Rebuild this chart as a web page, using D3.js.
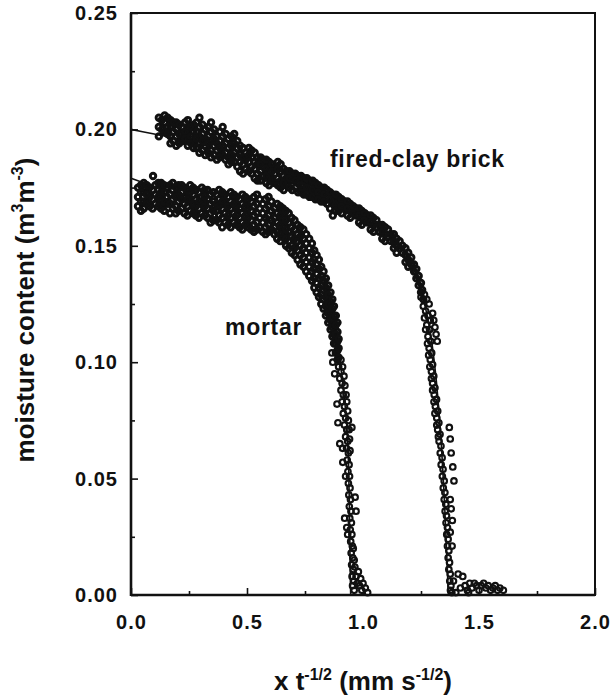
<!DOCTYPE html>
<html><head><meta charset="utf-8">
<script src="https://cdn.jsdelivr.net/npm/d3@7"></script>
<style>html,body{margin:0;padding:0;background:#fff;} svg{display:block;}</style>
</head><body><svg id="chart" width="615" height="697"></svg>
<script>
// ---------- data ----------
const xTicks = [0, 0.5, 1.0, 1.5, 2.0];
const xMinorTicks = [0.25, 0.75, 1.25, 1.75];
const yTicks = [0, 0.05, 0.10, 0.15, 0.20, 0.25];
const yMinorTicks = [0.025, 0.075, 0.125, 0.175, 0.225];
const seriesLabels = ["fired-clay brick", "mortar"];

const brickFit = [[0,0.200],[0.1,0.198],[0.2,0.196],[0.3,0.1935],[0.4,0.191],[0.5,0.188],[0.6,0.1845],[0.7,0.181],[0.8,0.1765],[0.9,0.171],[1.0,0.1645],[1.05,0.161],[1.1,0.156],[1.15,0.150],[1.2,0.142],[1.24,0.133],[1.27,0.123],[1.29,0.113],[1.305,0.102],[1.318,0.090],[1.328,0.078],[1.338,0.064],[1.346,0.050],[1.353,0.036],[1.359,0.022],[1.364,0.010],[1.368,0.0]];
const mortarFit = [[0,0.179],[0.1,0.1755],[0.2,0.1725],[0.3,0.170],[0.4,0.1675],[0.5,0.1645],[0.6,0.161],[0.65,0.158],[0.7,0.154],[0.75,0.149],[0.8,0.141],[0.83,0.134],[0.86,0.124],[0.88,0.114],[0.9,0.101],[0.915,0.089],[0.925,0.079],[0.933,0.068],[0.938,0.055],[0.941,0.040],[0.943,0.025],[0.945,0.010],[0.947,0.0]];

const brickPlateau = [
[0.12,0.205],[0.12,0.201],[0.12,0.197],
[0.145,0.206],[0.145,0.203],[0.145,0.199],
[0.17,0.204],[0.17,0.201],[0.17,0.197],[0.17,0.194],
[0.195,0.203],[0.195,0.200],[0.195,0.197],[0.195,0.193],
[0.22,0.201],[0.22,0.198],[0.22,0.195],
[0.245,0.204],[0.245,0.200],[0.245,0.197],[0.245,0.193],
[0.27,0.202],[0.27,0.199],[0.27,0.195],[0.27,0.192],
[0.295,0.205],[0.295,0.201],[0.295,0.197],[0.295,0.194],[0.295,0.190],
[0.32,0.200],[0.32,0.196],[0.32,0.193],[0.32,0.189],
[0.345,0.203],[0.345,0.199],[0.345,0.195],[0.345,0.191],[0.345,0.188],
[0.37,0.197],[0.37,0.194],[0.37,0.191],[0.37,0.187],
[0.395,0.201],[0.395,0.197],[0.395,0.193],[0.395,0.189],
[0.42,0.196],[0.42,0.192],[0.42,0.188],[0.42,0.185],
[0.445,0.198],[0.445,0.194],[0.445,0.190],[0.445,0.186],
[0.47,0.193],[0.47,0.189],[0.47,0.186],[0.47,0.182],
[0.495,0.190],[0.495,0.187],[0.495,0.183],
[0.52,0.191],[0.52,0.188],[0.52,0.184],[0.52,0.181],
[0.545,0.188],[0.545,0.185],[0.545,0.181],[0.545,0.178],
[0.57,0.187],[0.57,0.184],[0.57,0.180],
[0.595,0.186],[0.595,0.182],[0.595,0.179],[0.595,0.176],
[0.62,0.184],[0.62,0.181],[0.62,0.177],
[0.645,0.185],[0.645,0.182],[0.645,0.178],[0.645,0.175],
[0.67,0.182],[0.67,0.179],[0.67,0.176],
[0.695,0.181],[0.695,0.178],[0.695,0.174],
[0.72,0.180],[0.72,0.177],[0.72,0.173],
[0.745,0.179],[0.745,0.176],[0.745,0.172],
[0.77,0.178],[0.77,0.175],[0.77,0.171],
[0.795,0.177],[0.795,0.174],[0.795,0.170],
[0.82,0.175],[0.82,0.172],[0.82,0.169],
[0.845,0.174],[0.845,0.171],[0.845,0.168],
[0.87,0.172],[0.87,0.169],[0.87,0.163],
[0.895,0.171],[0.895,0.168],[0.895,0.165],
[0.92,0.169],[0.92,0.166],
[0.945,0.168],[0.945,0.165],[0.945,0.162],
[0.97,0.166],[0.97,0.163],
[0.995,0.165],[0.995,0.162],[0.995,0.159],
[1.02,0.163],[1.02,0.160],
[1.045,0.162],[1.045,0.159],[1.045,0.156],
[1.07,0.159],[1.07,0.156],
[1.095,0.158],[1.095,0.155],[1.095,0.152],
[1.12,0.155],[1.12,0.152],
[1.145,0.153],[1.145,0.150],[1.145,0.147],
[1.17,0.150],[1.17,0.147],
[1.195,0.147],[1.195,0.144],[1.195,0.141],
[1.22,0.142],[1.22,0.139],
[1.24,0.137],[1.24,0.133],
[1.255,0.131],[1.26,0.127]
];
const brickPlateauB = [
[0.133,0.204],[0.133,0.200],
[0.158,0.205],[0.158,0.201],[0.158,0.198],
[0.183,0.203],[0.183,0.199],[0.183,0.195],
[0.208,0.202],[0.208,0.198],[0.208,0.194],
[0.233,0.203],[0.233,0.199],[0.233,0.196],
[0.258,0.201],[0.258,0.197],[0.258,0.194],
[0.283,0.203],[0.283,0.199],[0.283,0.196],[0.283,0.192],
[0.308,0.202],[0.308,0.198],[0.308,0.195],[0.308,0.191],
[0.333,0.201],[0.333,0.197],[0.333,0.194],[0.333,0.190],
[0.358,0.200],[0.358,0.196],[0.358,0.193],[0.358,0.189],
[0.383,0.199],[0.383,0.195],[0.383,0.192],[0.383,0.188],
[0.408,0.198],[0.408,0.194],[0.408,0.190],[0.408,0.187],
[0.433,0.197],[0.433,0.193],[0.433,0.189],[0.433,0.186],
[0.458,0.195],[0.458,0.192],[0.458,0.188],[0.458,0.184],
[0.483,0.192],[0.483,0.188],[0.483,0.185],[0.483,0.181],
[0.508,0.192],[0.508,0.189],[0.508,0.186],[0.508,0.182],
[0.533,0.190],[0.533,0.186],[0.533,0.183],[0.533,0.179],
[0.558,0.188],[0.558,0.185],[0.558,0.182],[0.558,0.178],
[0.583,0.187],[0.583,0.183],[0.583,0.180],[0.583,0.177],
[0.608,0.185],[0.608,0.182],[0.608,0.178],
[0.633,0.186],[0.633,0.183],[0.633,0.179],[0.633,0.176],
[0.658,0.183],[0.658,0.180],[0.658,0.177],[0.658,0.174],
[0.683,0.182],[0.683,0.179],[0.683,0.175],
[0.708,0.181],[0.708,0.178],[0.708,0.175],
[0.733,0.180],[0.733,0.176],[0.733,0.173],
[0.758,0.179],[0.758,0.175],[0.758,0.172],
[0.783,0.178],[0.783,0.174],[0.783,0.171],
[0.808,0.176],[0.808,0.173],[0.808,0.170],
[0.833,0.175],[0.833,0.172],[0.833,0.169],
[0.858,0.173],[0.858,0.170],[0.858,0.166],
[0.883,0.172],[0.883,0.168],[0.883,0.165],
[0.908,0.170],[0.908,0.167],[0.908,0.164],
[0.933,0.169],[0.933,0.166],[0.933,0.163],
[0.958,0.167],[0.958,0.164],
[0.983,0.166],[0.983,0.163],[0.983,0.160],
[1.008,0.164],[1.008,0.161],
[1.033,0.163],[1.033,0.160],[1.033,0.157],
[1.058,0.161],[1.058,0.158],
[1.083,0.159],[1.083,0.156],[1.083,0.153],
[1.108,0.157],[1.108,0.154],
[1.133,0.155],[1.133,0.152],[1.133,0.149],
[1.158,0.152],[1.158,0.149],
[1.183,0.149],[1.183,0.146],[1.183,0.143],
[1.208,0.145],[1.208,0.142],
[1.23,0.140],[1.23,0.136],
[1.25,0.134],[1.25,0.130]
];
const brickFront = [
[1.265,0.129],[1.275,0.127],[1.285,0.125],[1.27,0.122],[1.28,0.120],[1.29,0.118],[1.275,0.116],[1.287,0.114],[1.28,0.111],[1.292,0.109],
[1.285,0.106],[1.296,0.104],[1.29,0.101],[1.30,0.099],[1.295,0.096],[1.305,0.094],[1.30,0.091],[1.31,0.089],[1.307,0.086],[1.317,0.084],
[1.312,0.081],[1.322,0.079],[1.318,0.076],[1.327,0.074],[1.322,0.071],[1.332,0.069],[1.328,0.066],[1.336,0.064],[1.333,0.061],[1.341,0.059],
[1.337,0.056],[1.345,0.054],[1.342,0.051],[1.35,0.049],[1.346,0.046],[1.353,0.044],[1.35,0.041],[1.357,0.039],[1.354,0.036],[1.36,0.034],
[1.358,0.031],[1.364,0.029],[1.361,0.026],[1.367,0.024],[1.364,0.021],[1.37,0.019],[1.367,0.016],[1.373,0.014],[1.37,0.011],[1.376,0.009],
[1.374,0.006],[1.379,0.004],[1.377,0.002],[1.383,0.001],
[1.25,0.128],[1.26,0.124],[1.265,0.119],[1.27,0.114],[1.278,0.108],[1.283,0.103],[1.288,0.098],[1.295,0.093],[1.30,0.088],[1.306,0.083],[1.31,0.078],[1.318,0.073],[1.325,0.068],
[1.30,0.121],[1.305,0.118],[1.31,0.115],[1.315,0.112],[1.32,0.109],
[1.372,0.072],[1.376,0.067],[1.38,0.061],[1.387,0.055],[1.392,0.049],[1.376,0.041],[1.38,0.037],[1.385,0.032],[1.376,0.027],[1.384,0.021]
];
const brickTail = [
[1.39,0.006],[1.41,0.009],[1.43,0.008],[1.42,0.003],[1.44,0.004],[1.45,0.002],[1.46,0.005],[1.47,0.003],[1.48,0.005],[1.49,0.004],
[1.50,0.002],[1.51,0.004],[1.52,0.005],[1.53,0.003],[1.54,0.004],[1.55,0.002],[1.56,0.003],[1.57,0.004],[1.58,0.002],[1.59,0.003],
[1.605,0.002],[1.40,0.001],[1.455,0.001]
];
const mortarPlateau = [
[0.03,0.175],[0.03,0.171],[0.03,0.167],
[0.055,0.177],[0.055,0.173],[0.055,0.169],[0.055,0.166],
[0.08,0.175],[0.08,0.171],[0.08,0.167],
[0.095,0.180],
[0.105,0.176],[0.105,0.172],[0.105,0.168],
[0.13,0.177],[0.13,0.173],[0.13,0.170],[0.13,0.166],
[0.155,0.175],[0.155,0.171],[0.155,0.168],
[0.18,0.177],[0.18,0.174],[0.18,0.170],[0.18,0.166],
[0.205,0.176],[0.205,0.172],[0.205,0.169],[0.205,0.165],
[0.23,0.175],[0.23,0.171],[0.23,0.168],[0.23,0.164],
[0.255,0.176],[0.255,0.173],[0.255,0.169],[0.255,0.165],
[0.28,0.174],[0.28,0.170],[0.28,0.167],[0.28,0.163],
[0.305,0.175],[0.305,0.171],[0.305,0.168],[0.305,0.164],
[0.33,0.174],[0.33,0.170],[0.33,0.166],[0.33,0.162],
[0.355,0.173],[0.355,0.169],[0.355,0.165],[0.355,0.161],
[0.38,0.174],[0.38,0.170],[0.38,0.167],[0.38,0.163],[0.38,0.160],
[0.405,0.172],[0.405,0.168],[0.405,0.164],[0.405,0.160],
[0.43,0.173],[0.43,0.169],[0.43,0.166],[0.43,0.162],[0.43,0.158],
[0.455,0.171],[0.455,0.167],[0.455,0.163],[0.455,0.159],
[0.48,0.172],[0.48,0.168],[0.48,0.164],[0.48,0.160],[0.48,0.157],
[0.505,0.170],[0.505,0.166],[0.505,0.162],[0.505,0.158],
[0.53,0.171],[0.53,0.167],[0.53,0.163],[0.53,0.159],[0.53,0.156],
[0.555,0.170],[0.555,0.166],[0.555,0.162],[0.555,0.158],
[0.58,0.170],[0.58,0.166],[0.58,0.162],[0.58,0.158],[0.58,0.155],
[0.605,0.169],[0.605,0.165],[0.605,0.161],[0.605,0.157],
[0.63,0.168],[0.63,0.164],[0.63,0.160],[0.63,0.156],[0.63,0.153],
[0.655,0.166],[0.655,0.162],[0.655,0.158],[0.655,0.154],
[0.68,0.164],[0.68,0.160],[0.68,0.156],[0.68,0.152],[0.68,0.149],
[0.705,0.161],[0.705,0.157],[0.705,0.153],[0.705,0.149],[0.705,0.146],
[0.73,0.158],[0.73,0.154],[0.73,0.150],[0.73,0.146],[0.73,0.142],
[0.755,0.155],[0.755,0.151],[0.755,0.147],[0.755,0.143],[0.755,0.139],
[0.78,0.151],[0.78,0.147],[0.78,0.143],[0.78,0.139],[0.78,0.135],
[0.80,0.146],[0.80,0.142],[0.80,0.138],[0.80,0.134],[0.80,0.130],
[0.82,0.141],[0.82,0.137],[0.82,0.133],[0.82,0.129],[0.82,0.125],
[0.84,0.136],[0.84,0.132],[0.84,0.128],[0.84,0.124],[0.84,0.120],
[0.86,0.130],[0.86,0.126],[0.86,0.122],[0.86,0.118],[0.86,0.114],
[0.875,0.124],[0.875,0.120],[0.875,0.116],[0.875,0.112],[0.875,0.108],
[0.89,0.117],[0.89,0.113],[0.89,0.109],[0.89,0.105],[0.89,0.101]
];
const mortarPlateauB = [
[0.043,0.176],[0.043,0.173],[0.043,0.169],[0.043,0.165],
[0.068,0.176],[0.068,0.172],[0.068,0.168],
[0.093,0.174],[0.093,0.170],[0.093,0.166],
[0.118,0.177],[0.118,0.174],[0.118,0.171],[0.118,0.167],
[0.143,0.176],[0.143,0.173],[0.143,0.169],[0.143,0.165],
[0.168,0.176],[0.168,0.172],[0.168,0.168],[0.168,0.164],
[0.193,0.175],[0.193,0.171],[0.193,0.167],[0.193,0.164],
[0.218,0.176],[0.218,0.173],[0.218,0.170],[0.218,0.166],
[0.243,0.174],[0.243,0.170],[0.243,0.167],[0.243,0.163],
[0.268,0.175],[0.268,0.172],[0.268,0.168],[0.268,0.164],
[0.293,0.173],[0.293,0.169],[0.293,0.166],[0.293,0.162],
[0.318,0.174],[0.318,0.171],[0.318,0.167],[0.318,0.163],
[0.343,0.172],[0.343,0.168],[0.343,0.164],[0.343,0.160],
[0.368,0.172],[0.368,0.168],[0.368,0.165],[0.368,0.161],
[0.393,0.173],[0.393,0.169],[0.393,0.166],[0.393,0.162],[0.393,0.158],
[0.418,0.171],[0.418,0.167],[0.418,0.163],[0.418,0.159],
[0.443,0.172],[0.443,0.168],[0.443,0.164],[0.443,0.160],
[0.468,0.170],[0.468,0.166],[0.468,0.162],[0.468,0.158],
[0.493,0.171],[0.493,0.167],[0.493,0.163],[0.493,0.159],
[0.518,0.169],[0.518,0.165],[0.518,0.161],[0.518,0.157],
[0.543,0.172],[0.543,0.168],[0.543,0.164],[0.543,0.160],[0.543,0.157],
[0.568,0.168],[0.568,0.164],[0.568,0.160],[0.568,0.156],
[0.593,0.171],[0.593,0.167],[0.593,0.163],[0.593,0.159],[0.593,0.156],
[0.618,0.166],[0.618,0.162],[0.618,0.158],[0.618,0.155],
[0.643,0.167],[0.643,0.163],[0.643,0.159],[0.643,0.155],[0.643,0.152],
[0.668,0.165],[0.668,0.161],[0.668,0.157],[0.668,0.153],[0.668,0.150],
[0.693,0.162],[0.693,0.158],[0.693,0.154],[0.693,0.150],[0.693,0.147],
[0.718,0.159],[0.718,0.155],[0.718,0.152],[0.718,0.148],[0.718,0.144],
[0.743,0.157],[0.743,0.153],[0.743,0.149],[0.743,0.145],[0.743,0.141],
[0.768,0.153],[0.768,0.149],[0.768,0.145],[0.768,0.141],[0.768,0.137],
[0.79,0.148],[0.79,0.144],[0.79,0.140],[0.79,0.136],[0.79,0.132],
[0.81,0.144],[0.81,0.140],[0.81,0.136],[0.81,0.132],[0.81,0.128],
[0.83,0.139],[0.83,0.135],[0.83,0.131],[0.83,0.127],[0.83,0.123],
[0.85,0.133],[0.85,0.129],[0.85,0.125],[0.85,0.121],[0.85,0.117],
[0.868,0.127],[0.868,0.123],[0.868,0.119],[0.868,0.115],[0.868,0.111],
[0.883,0.120],[0.883,0.116],[0.883,0.112],[0.883,0.108],[0.883,0.104],
[0.895,0.110],[0.895,0.106],[0.895,0.102]
];
const mortarFront = [
[0.895,0.098],[0.905,0.096],[0.90,0.093],[0.91,0.091],[0.905,0.088],[0.915,0.086],[0.91,0.083],[0.92,0.081],[0.915,0.078],[0.925,0.076],
[0.92,0.073],[0.93,0.071],[0.925,0.068],[0.934,0.066],[0.929,0.063],[0.937,0.061],[0.932,0.058],[0.94,0.056],[0.935,0.053],[0.942,0.051],
[0.937,0.048],[0.944,0.046],[0.939,0.043],[0.946,0.041],[0.941,0.038],[0.948,0.036],[0.943,0.033],[0.95,0.031],[0.945,0.028],[0.952,0.026],
[0.947,0.023],[0.954,0.021],[0.949,0.018],[0.956,0.016],[0.951,0.013],[0.958,0.011],[0.953,0.008],[0.96,0.006],[0.955,0.004],[0.962,0.002],
[0.905,0.101],[0.912,0.098],[0.918,0.094],[0.922,0.090],[0.927,0.086],[0.93,0.083],[0.934,0.079],[0.937,0.075],[0.94,0.071],[0.942,0.067],[0.944,0.062],
[0.866,0.104],[0.87,0.100],[0.878,0.095],[0.888,0.082],[0.892,0.074],[0.90,0.065],[0.912,0.063],[0.913,0.057],[0.925,0.051],[0.921,0.033],[0.93,0.029],[0.934,0.026],
[0.952,0.072],[0.966,0.042],[0.97,0.036]
];
const mortarTail = [
[0.965,0.012],[0.97,0.008],[0.975,0.005],[0.98,0.010],[0.985,0.004],[0.99,0.007],[0.995,0.002],[1.00,0.005],[1.01,0.003],[1.02,0.001],[0.962,0.015],[0.958,0.02]
];

// ---------- drawing ----------
const W = 615, H = 697;
const L = 131, R = 595, T = 13, B = 595;
const FONT = '"Liberation Sans", Arial, Helvetica, sans-serif';
const INK = '#111';
const svg = d3.select('#chart');
svg.append('rect').attr('width', W).attr('height', H).attr('fill', '#fff');

const x = d3.scaleLinear().domain([0, 2]).range([L, R]);
const y = d3.scaleLinear().domain([0, 0.25]).range([B, T]);

const line = d3.line().x(d => x(d[0])).y(d => y(d[1])).curve(d3.curveMonotoneX);
[brickFit, mortarFit].forEach(f => {
  svg.append('path').attr('d', line(f)).attr('fill', 'none')
    .attr('stroke', INK).attr('stroke-width', 1.6);
});

const dense = [].concat(brickPlateau, brickPlateauB, mortarPlateau, mortarPlateauB);
const sparse = [].concat(brickFront, brickTail, mortarFront, mortarTail);
svg.append('g').selectAll('circle').data(dense).join('circle')
  .attr('cx', d => x(d[0])).attr('cy', d => y(d[1]))
  .attr('r', 2.7).attr('fill', 'none').attr('stroke', INK).attr('stroke-width', 3.0);
svg.append('g').selectAll('circle').data(sparse).join('circle')
  .attr('cx', d => x(d[0])).attr('cy', d => y(d[1]))
  .attr('r', 2.8).attr('fill', 'none').attr('stroke', INK).attr('stroke-width', 2.1);

// axes
function styleAxis(g) {
  g.select('.domain').remove();
  g.selectAll('line').attr('stroke', INK).attr('stroke-width', 1.6);
  g.selectAll('text').attr('fill', INK).style('font-family', FONT)
    .style('font-size', '20px').style('font-weight', 'bold').style('letter-spacing', '1px');
}
svg.append('g').attr('transform', `translate(0,${B})`)
  .call(d3.axisBottom(x).tickValues(xTicks).tickSize(-7).tickPadding(20).tickFormat(d3.format('.1f')))
  .call(styleAxis);
svg.append('g').attr('transform', `translate(0,${B})`)
  .call(d3.axisBottom(x).tickValues(xMinorTicks).tickSize(-4).tickFormat(''))
  .call(styleAxis);
svg.append('g').attr('transform', `translate(${L},0)`)
  .call(d3.axisLeft(y).tickValues(yTicks).tickSize(-7).tickPadding(13).tickFormat(d3.format('.2f')))
  .call(styleAxis);
svg.append('g').attr('transform', `translate(${L},0)`)
  .call(d3.axisLeft(y).tickValues(yMinorTicks).tickSize(-4).tickFormat(''))
  .call(styleAxis);

// frame
svg.append('rect').attr('x', L).attr('y', T).attr('width', R - L).attr('height', B - T)
  .attr('fill', 'none').attr('stroke', INK).attr('stroke-width', 2);
svg.append('line').attr('x1', L).attr('x2', L).attr('y1', T).attr('y2', B + 1)
  .attr('stroke', INK).attr('stroke-width', 2.6);
svg.append('line').attr('x1', L).attr('x2', R).attr('y1', B).attr('y2', B)
  .attr('stroke', INK).attr('stroke-width', 2.6);

// series labels
svg.append('text').attr('x', 330).attr('y', 167).text(seriesLabels[0])
  .attr('fill', INK).style('font-family', FONT).style('font-size', '23px')
  .style('font-weight', 'bold').style('letter-spacing', '0.7px');
svg.append('text').attr('x', 225).attr('y', 335).text(seriesLabels[1])
  .attr('fill', INK).style('font-family', FONT).style('font-size', '23px')
  .style('font-weight', 'bold').style('letter-spacing', '0.7px');

// x title
const xt = svg.append('text').attr('x', 363).attr('y', 690).attr('text-anchor', 'middle')
  .attr('fill', INK).style('font-family', FONT).style('font-size', '26px').style('font-weight', 'bold');
xt.append('tspan').text('x t');
xt.append('tspan').attr('dy', -10).style('font-size', '16px').text('-1/2');
xt.append('tspan').attr('dy', 10).text(' (mm s');
xt.append('tspan').attr('dy', -10).style('font-size', '16px').text('-1/2');
xt.append('tspan').attr('dy', 10).text(')');

// y title
const yt = svg.append('text').attr('transform', 'translate(34,310) rotate(-90)').attr('text-anchor', 'middle')
  .attr('fill', INK).style('font-family', FONT).style('font-size', '26px').style('font-weight', 'bold');
yt.append('tspan').text('moisture content (m');
yt.append('tspan').attr('dy', -11).style('font-size', '16px').text('3');
yt.append('tspan').attr('dy', 11).text('m');
yt.append('tspan').attr('dy', -11).style('font-size', '16px').text('-3');
yt.append('tspan').attr('dy', 11).text(')');
</script>
</body></html>
